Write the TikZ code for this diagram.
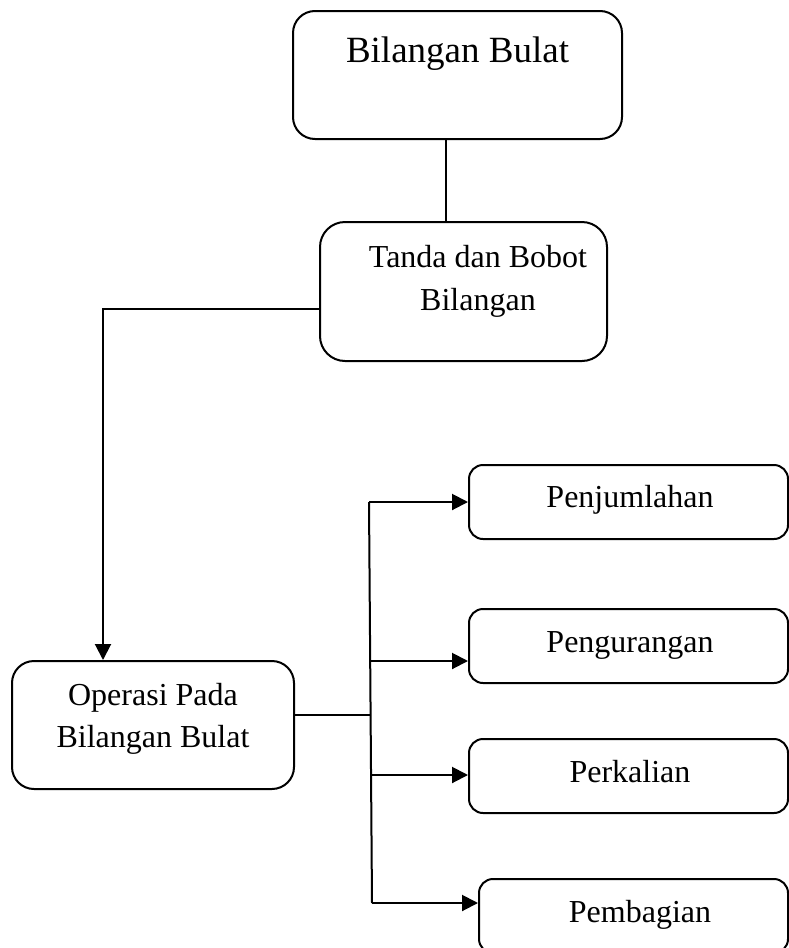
\documentclass[tikz,border=0pt]{standalone}
\usepackage{fontspec}
\setmainfont{Liberation Serif}
\usetikzlibrary{arrows.meta}
\begin{document}
\begin{tikzpicture}[x=1pt,y=-1pt,
  box/.style={draw,line width=2pt,rounded corners=#1,inner sep=0pt},
  box/.default=14pt,
  lab/.style={anchor=base,inner sep=0pt,font=\fontsize{32}{43}\selectfont,align=center},
  conn/.style={line width=2pt},
  arr/.style={line width=2pt,-{Triangle[length=16pt,width=16pt]}}]
\useasboundingbox (0,0) rectangle (789,948);
\clip (0,0) rectangle (789,948);
\fill[white] (0,0) rectangle (789,948);
% boxes
\node[box=22pt,minimum width=329pt,minimum height=128pt] (b1) at (457.5,75) {};
\node[box=25pt,minimum width=287pt,minimum height=139pt] (b2) at (463.5,291.5) {};
\node[box=22pt,minimum width=282pt,minimum height=128pt] (b3) at (153,725) {};
\node[box,minimum width=319pt,minimum height=74pt] (p1) at (628.5,502) {};
\node[box,minimum width=319pt,minimum height=74pt] (p2) at (628.5,646) {};
\node[box,minimum width=319pt,minimum height=74pt] (p3) at (628.5,776) {};
\node[box,minimum width=309pt,minimum height=74pt] (p4) at (633.5,916) {};
% texts
\node[lab,font=\fontsize{37}{44}\selectfont] (t1) at (457.5,62) {Bilangan Bulat};
\node[lab] (t2a) at (478,267) {Tanda dan Bobot};
\node[lab] (t2b) at (478,310) {Bilangan};
\node[lab] (t3a) at (153,705) {Operasi Pada};
\node[lab] (t3b) at (153,747) {Bilangan Bulat};
\node[lab] (tp1) at (630,507) {Penjumlahan};
\node[lab] (tp2) at (630,652) {Pengurangan};
\node[lab] (tp3) at (630,782) {Perkalian};
\node[lab] (tp4) at (640,922) {Pembagian};
% connector coordinates
\coordinate (k0) at (446,0);
\coordinate (k1) at (103,309);
\coordinate (k2) at (370,715);
\coordinate (ttop) at (369,502);
\coordinate (tbot) at (372,903);
\coordinate (a2) at (370,661);
\coordinate (a3) at (371,775);
% connectors
\draw[conn] (k0 |- b1.south) -- (k0 |- b2.north);
\draw[arr] (k1 -| b2.west) -- (k1) -- (k1 |- b3.north);
\draw[conn] (k2 -| b3.east) -- (k2);
\draw[conn] (ttop) -- (tbot);
\draw[arr] (ttop) -- (p1.west);
\draw[arr] (a2) -- (a2 -| p2.west);
\draw[arr] (a3) -- (a3 -| p3.west);
\draw[arr] (tbot) -- (tbot -| p4.west);
\end{tikzpicture}
\end{document}
